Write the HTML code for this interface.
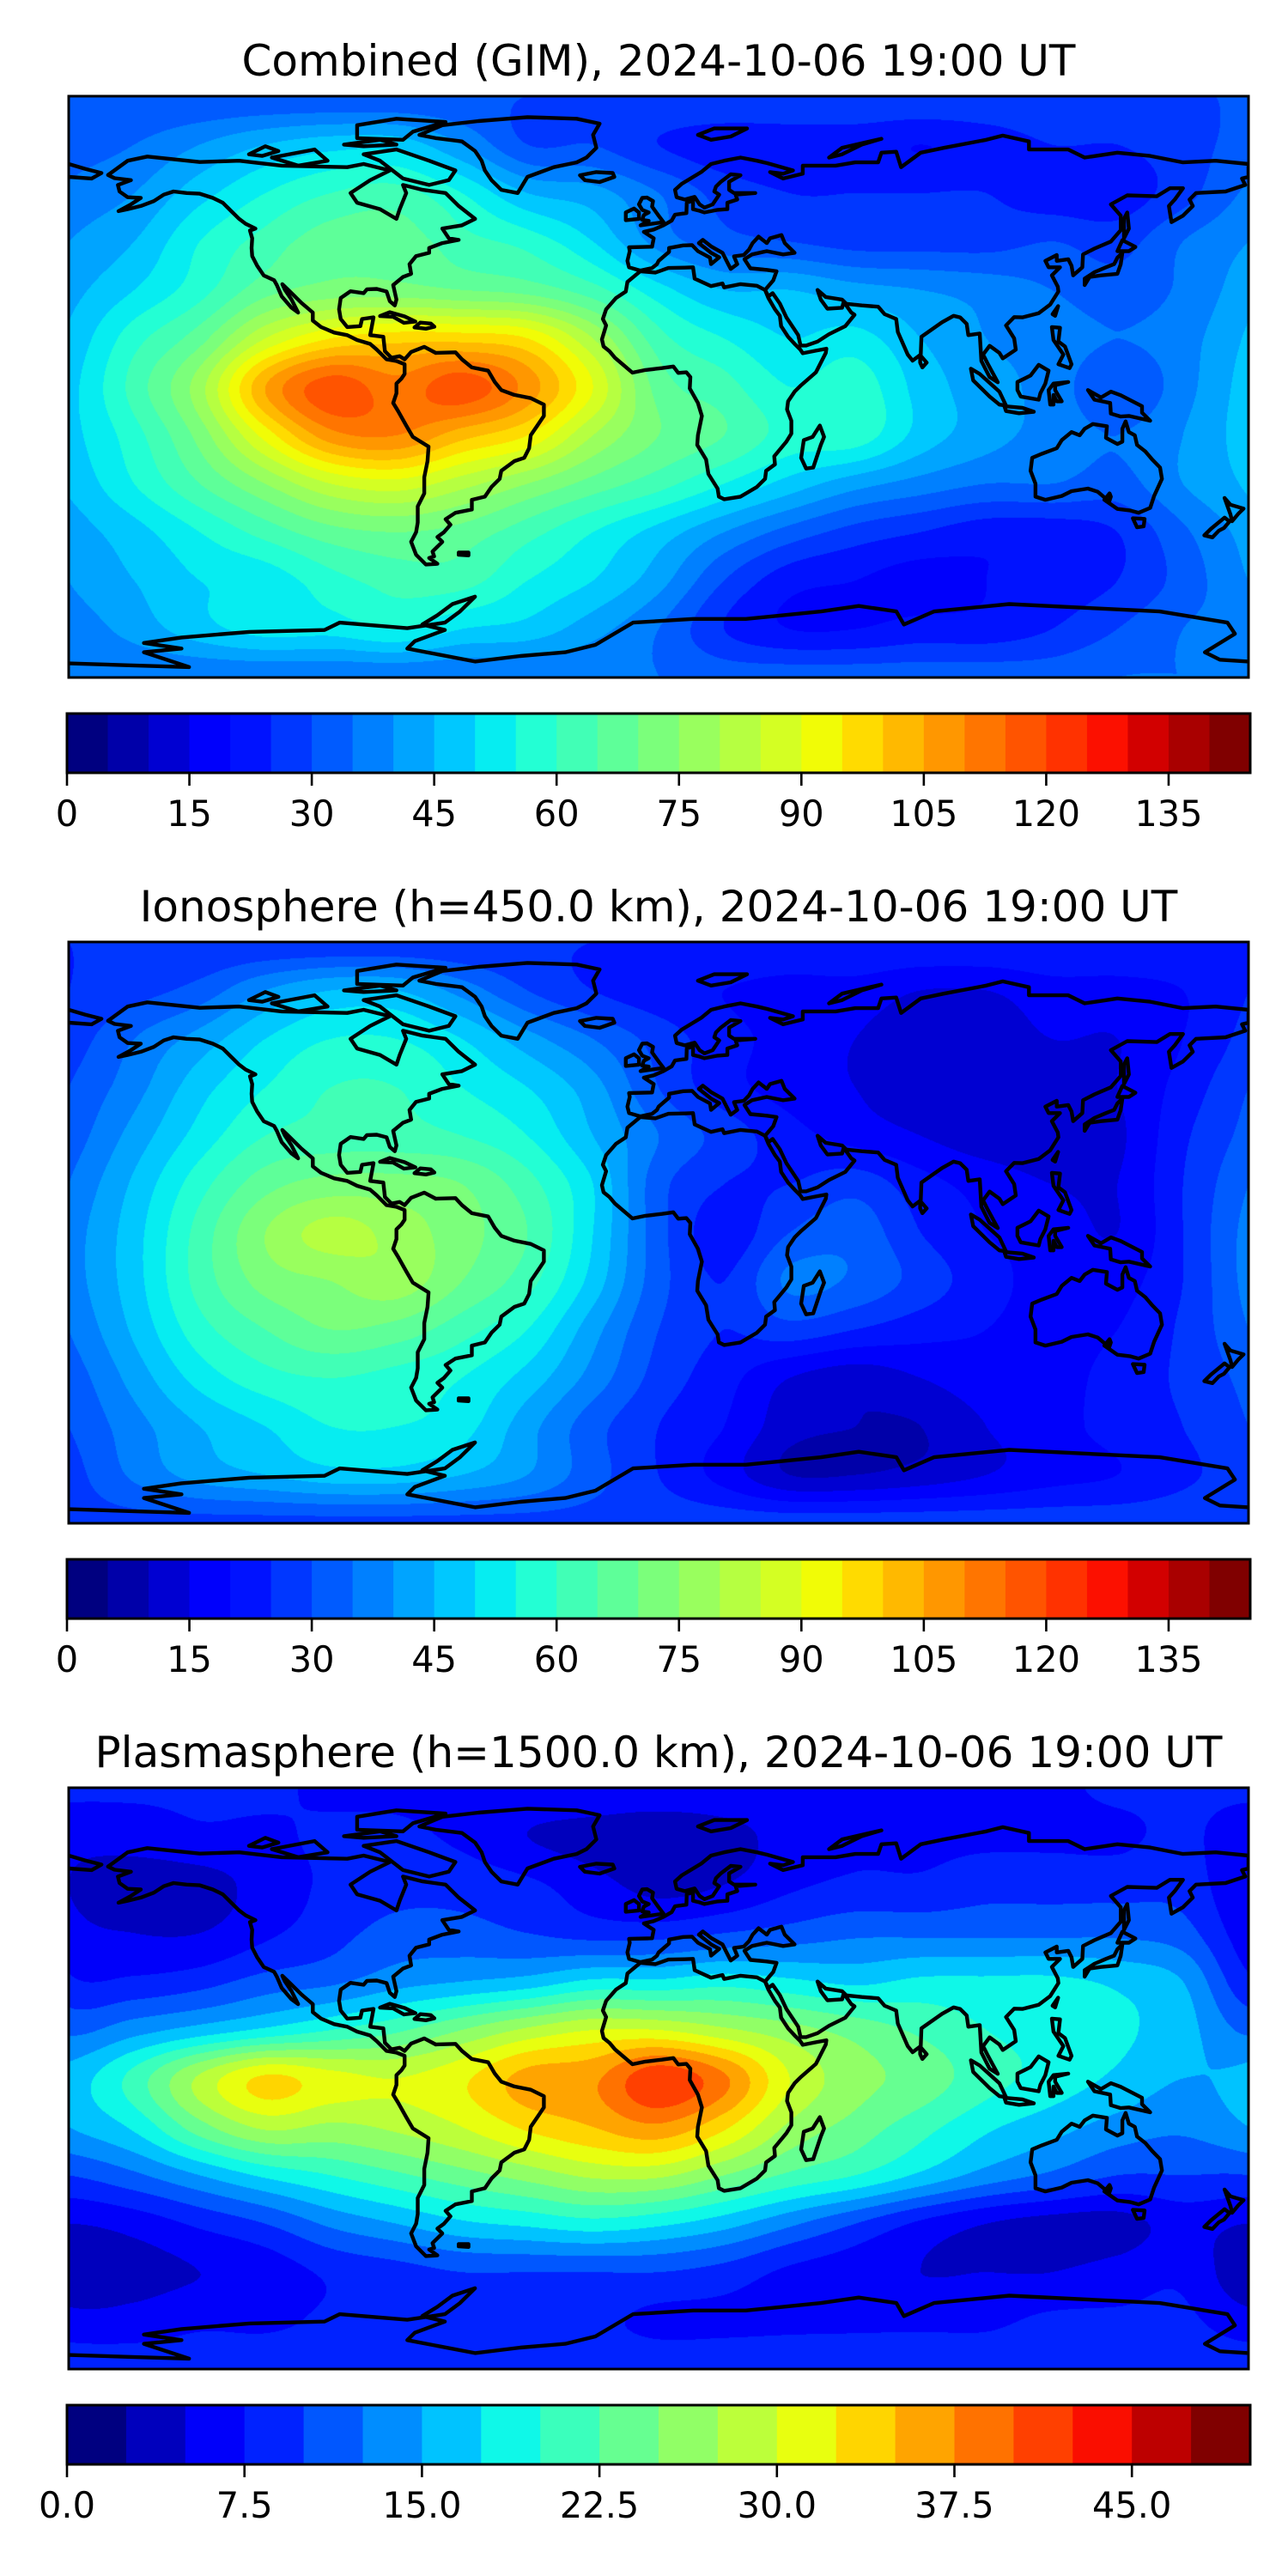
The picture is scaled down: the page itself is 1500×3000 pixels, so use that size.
<!DOCTYPE html>
<html><head><meta charset="utf-8">
<style>
html,body{margin:0;padding:0;background:#fff;}
#wrap{position:relative;width:1500px;height:3000px;overflow:hidden;background:#fff;}
canvas{position:absolute;}
svg{position:absolute;left:0;top:0;}
text{font-family:"DejaVu Sans","Liberation Sans",sans-serif;fill:#000;}
</style></head>
<body>
<div id="wrap">
<canvas id="c0" width="1374" height="677" style="left:80px;top:112px"></canvas>
<canvas id="c1" width="1374" height="677" style="left:80px;top:1097px"></canvas>
<canvas id="c2" width="1374" height="677" style="left:80px;top:2082px"></canvas>
<svg id="ov" width="1500" height="3000" xmlns="http://www.w3.org/2000/svg"></svg>
</div>
<script>
// ---------- data ----------
const gridLons = [-180,-160,-140,-120,-100,-80,-60,-40,-20,0,20,40,60,80,100,120,140,160,180];
const gridLats = [90,75,60,45,30,15,0,-15,-30,-45,-60,-75,-90];
const titles = ["Combined (GIM), 2024-10-06 19:00 UT","Ionosphere  (h=450.0 km), 2024-10-06 19:00 UT","Plasmasphere (h=1500.0 km), 2024-10-06 19:00 UT"];
const levelMax = [145,145,50];
const levelStep = [5,5,2.5];
const tickValsA = [0,15,30,45,60,75,90,105,120,135];
const tickLabelsA = ["0","15","30","45","60","75","90","105","120","135"];
const tickValsB = [0,7.5,15,22.5,30,37.5,45];
const tickLabelsB = ["0.0","7.5","15.0","22.5","30.0","37.5","45.0"];
const combined = [
[30,30,30,30,30,30,30,30,30,30,30,30,30,30,30,30,30,30,30],
[32,35,40,45,48,48,40,30,30,25,22,22,22,20,22,25,25,28,32],
[36,40,48,55,60,62,55,45,42,35,28,25,25,25,25,22,22,28,36],
[40,45,55,62,68,68,62,58,50,38,32,30,28,28,28,30,28,35,40],
[43,50,58,68,72,72,70,68,62,52,45,45,42,40,38,35,32,36,43],
[46,58,68,85,95,98,98,95,80,62,55,50,52,45,40,38,35,38,46],
[48,62,78,105,118,112,118,108,90,68,62,55,58,48,42,38,30,38,48],
[48,58,72,92,108,110,102,95,80,70,65,58,58,48,42,38,35,40,48],
[46,55,65,75,85,88,82,75,68,62,55,48,42,38,35,35,33,40,46],
[42,48,55,62,68,70,68,62,55,48,40,33,28,25,22,22,25,34,42],
[40,45,50,52,58,62,62,55,50,42,30,22,20,18,20,22,25,32,40],
[37,42,48,52,52,55,50,48,42,35,25,20,20,22,22,25,30,35,37],
[35,35,35,35,35,35,35,35,35,35,33,33,33,33,33,33,35,35,35]];
const ionosphere = [
[25,25,25,25,25,25,25,25,25,25,25,25,25,25,25,25,25,25,25],
[25,28,32,40,45,45,38,30,25,22,20,18,18,15,15,18,18,20,25],
[27,35,42,50,55,55,50,42,35,28,22,18,15,12,12,15,15,20,27],
[30,38,48,55,60,60,55,50,42,30,22,18,15,12,10,12,15,22,30],
[32,42,52,60,62,62,60,55,45,35,28,22,18,15,12,12,14,24,32],
[35,46,58,68,72,72,70,62,50,32,25,25,28,22,18,15,15,25,35],
[37,48,62,75,82,78,72,65,50,32,22,30,33,25,20,18,15,25,37],
[37,48,62,72,75,78,70,62,48,32,25,36,34,28,22,18,18,25,37],
[35,46,58,65,70,68,62,55,42,30,25,28,25,22,20,18,20,26,35],
[32,42,52,58,60,58,55,48,38,28,22,15,12,15,18,18,22,26,32],
[30,38,45,50,55,55,52,42,32,25,20,12,10,10,15,18,22,25,30],
[28,36,42,45,48,48,45,40,32,25,18,10,10,12,15,18,20,24,28],
[28,28,28,28,28,28,28,28,28,28,28,28,28,28,28,28,28,28,28]];
const plasmasphere = [
[8,8,8,8,7,7,7,7,7,7,7,7,7,7,7,7,8,8,8],
[6,6,7,7,8,8,7,5,4,3,4,6,7,7,7,7,7,8,6],
[5,4,4,6,8,9,9,8,6,4,5,7,8,8,9,9,9,9,5],
[6,5,5,7,9,11,11,10,9,9,10,11,12,12,12,12,12,11,6],
[8,8,9,11,12,14,15,16,18,18,19,18,17,18,18,18,17,15,8],
[12,14,16,18,20,22,25,28,30,30,28,26,24,22,20,19,18,16,12],
[16,21,28,33,31,30,32,36,37,42,38,30,26,24,21,19,17,15,16],
[15,18,24,28,27,28,30,33,35,37,33,27,24,21,18,16,14,13,15],
[10,12,15,18,20,22,24,26,28,28,25,22,20,17,14,12,10,10,10],
[5,6,8,10,13,15,17,18,19,18,16,13,10,7,5,4,4,6,5],
[3,4,5,6,8,9,10,10,10,10,9,7,6,5,5,5,6,7,3],
[6,6,7,7,8,9,9,8,8,7,7,7,7,7,7,8,8,8,6],
[9,9,9,9,9,9,9,9,9,9,9,9,9,9,9,9,9,9,9]];
const fields = [combined, ionosphere, plasmasphere];

// ---------- layout ----------
const MAP_X=80, MAP_W=1374, MAP_H=677, PANEL_DY=985, MAP_Y0=112;
const CB_X=78, CB_W=1378, CB_Y0=831, CB_H=69;

// matplotlib jet segment data
const JR=[[0,0],[0.35,0],[0.66,1],[0.89,1],[1,0.5]];
const JG=[[0,0],[0.125,0],[0.375,1],[0.64,1],[0.91,0],[1,0]];
const JB=[[0,0.5],[0.11,1],[0.34,1],[0.65,0],[1,0]];
function seg(s,x){
  for(let i=1;i<s.length;i++){
    if(x<=s[i][0]){const t=(x-s[i-1][0])/(s[i][0]-s[i-1][0]);return s[i-1][1]+t*(s[i][1]-s[i-1][1]);}
  }
  return s[s.length-1][1];
}
function jet(x){return [seg(JR,x),seg(JG,x),seg(JB,x)].map(v=>Math.round(v*255));}
function cr(p0,p1,p2,p3,t){
  return p1+0.5*t*(p2-p0+t*(2*p0-5*p1+4*p2-p3+t*(3*(p1-p2)+p3-p0)));
}
function sample(g,lon,lat){
  const nc=gridLons.length, nr=gridLats.length;
  const c=(lon-gridLons[0])/20, r=(gridLats[0]-lat)/15;
  const ci=Math.floor(c), ri=Math.floor(r), tc=c-ci, tr=r-ri;
  const rows=[];
  for(let k=-1;k<=2;k++){
    const rr=Math.max(0,Math.min(nr-1,ri+k));
    const row=g[rr];
    const v=[];
    for(let m=-1;m<=2;m++){
      let cc=ci+m;
      if(cc<0)cc+=nc-1; if(cc>nc-1)cc-=nc-1;
      cc=Math.max(0,Math.min(nc-1,cc));
      v.push(row[cc]);
    }
    rows.push(cr(v[0],v[1],v[2],v[3],tc));
  }
  return cr(rows[0],rows[1],rows[2],rows[3],tr);
}
function drawField(idx){
  const cv=document.getElementById('c'+idx);
  const ctx=cv.getContext('2d');
  const img=ctx.createImageData(MAP_W,MAP_H);
  const g=fields[idx], step=levelStep[idx], nb=Math.round(levelMax[idx]/step);
  const pal=[]; for(let i=0;i<nb;i++) pal.push(jet(i/(nb-1)));
  for(let py=0;py<MAP_H;py++){
    const lat=90-(py+0.5)/MAP_H*180;
    for(let px=0;px<MAP_W;px++){
      const lon=-180+(px+0.5)/MAP_W*360;
      const val=sample(g,lon,lat);
      let b=Math.floor(val/step); if(b<0)b=0; if(b>nb-1)b=nb-1;
      const c=pal[b], o=(py*MAP_W+px)*4;
      img.data[o]=c[0];img.data[o+1]=c[1];img.data[o+2]=c[2];img.data[o+3]=255;
    }
  }
  ctx.putImageData(img,0,0);
}
[0,1,2].forEach(drawField);

// ---------- coastlines (lon,lat) ----------
const coasts = {
 "americas":[[-168,65.6],[-162,70],[-156,71.3],[-140,69.6],[-128,70],[-115,68.5],[-95,68],[-90,69],[-82,67],[-88,64],[-94,60],[-92,57],[-85,55],[-80,52],[-79,55],[-77,60],[-78,62.5],[-72,61],[-65,60],[-61,56],[-56,52],[-60,50],[-66,49],[-64,46],[-61,45.5],[-66,44.5],[-70,43],[-70,41.5],[-74,40.5],[-76,38],[-75.5,35],[-78,34],[-81,31.5],[-80,27],[-80.5,25.2],[-82,26.5],[-83,29.5],[-86,30.3],[-89,30.2],[-90,29],[-94,29.6],[-97,27.5],[-97.5,24],[-97,21],[-95,18.5],[-91,18.8],[-90.5,21],[-87,21.5],[-88,16],[-84,15.5],[-83.5,11],[-81.5,9],[-79,9.5],[-77.5,8.5],[-75.5,10.8],[-71.5,12.4],[-68,10.5],[-62,10.7],[-60,8.5],[-57,6],[-52,5],[-50,1.5],[-48,-1],[-44,-2.5],[-39,-3.5],[-35,-5.5],[-35,-9],[-37,-12],[-39,-15],[-39.5,-19],[-41,-22],[-44,-23],[-48,-26],[-48.5,-28.5],[-51,-31],[-53,-34],[-57,-35],[-57,-38],[-62,-39],[-65,-41],[-63.5,-42.7],[-65.5,-45],[-67.5,-46.5],[-66,-48],[-69,-51],[-68.5,-52.5],[-70,-53],[-67.5,-54.8],[-71,-55],[-74,-52],[-75.5,-48],[-74,-45],[-73.5,-42],[-73.5,-37],[-71.5,-33],[-71.5,-28],[-70.5,-23],[-70.2,-18.5],[-75,-15.5],[-77,-12],[-79.5,-7.5],[-81,-5],[-80,-2],[-80,1],[-78.5,2.5],[-77.5,4],[-77.5,7],[-80,8],[-83,8.5],[-86,11.5],[-88,13.3],[-92,14.5],[-95,16],[-99,16.8],[-103,18.5],[-105.5,20.5],[-105.5,23],[-109,26],[-112.5,29.5],[-114.8,31.8],[-114,30],[-112,27],[-110,23],[-112,24.5],[-115,28],[-116.5,31.5],[-117.3,33],[-120.5,34.5],[-122.5,37.5],[-124,40.5],[-124.2,43],[-124,46],[-124.7,48.4],[-123,49],[-126,50.5],[-128,52],[-130.5,54.5],[-133,57],[-136,58.5],[-140,59.8],[-144,60],[-148,60.5],[-151,59.5],[-154,57.5],[-158,56],[-162,55],[-164.8,54.4],[-161,56.5],[-158,58.5],[-162,58.7],[-164.5,60.5],[-165,62.5],[-161,64],[-166,64.6],[-168,65.6]],
 "greenland":[[-73,78],[-66,81],[-55,82.3],[-40,83.5],[-25,83],[-18,81.5],[-20,78],[-19,74],[-22,71],[-25,69.5],[-32,68],[-40,65],[-43,60],[-48,61],[-51,64],[-53,67],[-54,70],[-56,73],[-60,76],[-68,77],[-73,78]],
 "baffin":[[-90,72],[-80,73.5],[-70,70],[-62,67],[-64,64],[-70,62.5],[-78,64.5],[-85,70],[-90,72]],
 "victoria":[[-118,71],[-105,73.5],[-101,70],[-110,68.5],[-118,71]],
 "ellesmere":[[-92,77],[-78,76.5],[-75,79],[-65,82],[-80,83],[-92,81],[-92,77]],
 "banks":[[-125,72],[-120,74.5],[-116,73],[-121,71.5],[-125,72]],
 "devon":[[-96,75],[-85,76.5],[-80,75],[-90,74.5],[-96,75]],
 "eurasia":[[-5.6,36],[-9,37],[-9.5,39],[-8.8,42],[-9,43.2],[-2,43.4],[-1.5,46],[-4.5,48],[-1.5,48.7],[1.5,50],[4,51.5],[5,53.3],[8.5,53.8],[8.6,57],[10.5,57.7],[10.5,55],[12.5,54.5],[14,54],[18,54.8],[21,55],[21,57],[24,58],[23.5,59.5],[29.5,60],[23,60],[21.5,61],[21.5,63.5],[25,65.5],[22,65.8],[19,63.5],[17.5,62],[17,60.5],[18.5,59.5],[16.5,56.5],[14,55.5],[12.5,56.5],[11,58.8],[8,58],[5.5,58.7],[5,61],[7,62.8],[13,66.5],[16,69],[20,70],[25,71],[30,70],[33,69.3],[41,67],[38,66],[34,66.5],[38,64.5],[44,66],[44,68.5],[54,68.5],[60,69.5],[67,69.5],[68,72.5],[72.5,72.8],[74,68],[80,72.5],[87,74],[100,76.5],[105,77.8],[113,76],[113,73.5],[125,73.5],[130,71],[140,72.5],[150,71.5],[160,69.5],[170,70],[180,69],[180,65],[178,64.5],[179,62.5],[173,60.5],[164,60],[162,58],[163,56],[160,53],[156.5,51],[155.7,56],[157.5,58],[160,61.5],[156,61.5],[152,59],[143,59.3],[138,56.5],[141,53],[141,48.5],[138,45],[133,42.8],[129.5,41],[129.3,37],[126.5,34.5],[126,37.5],[125,39.5],[121.5,39],[121.5,40.8],[118,39],[119,37],[122.5,37],[120,34.5],[121.8,31],[122,29.5],[119.5,25.5],[116,22.8],[111,21.5],[108.5,21.6],[106,19],[108.5,15],[109,11.5],[105,8.8],[104,10.5],[101,12.7],[99,10],[100.5,7],[103.5,1.4],[101,3],[98.5,8],[98,16.5],[94.5,16],[94,19.5],[92,21.5],[90,22],[86.5,20],[80.2,15.5],[80,10],[77.5,8.1],[76,10],[73,17],[72.5,21],[69,22.5],[67,24.8],[62,25.2],[57.3,25.7],[56,27],[51,27.8],[48.5,30],[49.5,27],[51.5,24.2],[56,24.5],[56.5,26.3],[58.8,23],[59.8,22.3],[57,18.8],[52,16.3],[48.5,14],[45,12.8],[43.3,12.8],[42.6,16],[39,21.5],[37,25.8],[34.8,29],[33.5,28],[32.5,30],[35,33],[36,35.8],[33,36.2],[28,36.7],[26.2,39.5],[28.5,41],[33,42],[38,41],[41.5,41.5],[38.5,44.5],[37.5,47],[34,46],[33,44.5],[30.5,46.5],[28.7,44.5],[27.6,42.5],[26,40.8],[23,40.4],[24,38],[22,36.5],[21,38.5],[19.5,41.5],[16,43.5],[13.5,45.5],[12.3,44.5],[16,41.5],[18.5,40.1],[16,38],[15.7,40],[12,42],[10.2,43.9],[7.5,43.8],[3.2,43],[3.2,41.8],[0,39],[-0.5,38],[-2,36.8],[-5.6,36]],
 "chukotka":[[-180,69],[-175,67.5],[-170,66.2],[-173,64.5],[-180,65]],
 "africa":[[-5.6,35.8],[-9.5,32.5],[-10,29.5],[-13,27.5],[-16,24],[-17,21],[-16,19],[-17.3,14.7],[-16.8,12.5],[-15,11],[-13.3,9],[-11,7],[-8,4.4],[-4,5.2],[1,5.8],[4.5,6.3],[6,4.3],[8.5,4.5],[9.7,3],[9.5,-0.5],[12,-5],[13.2,-9],[12,-15],[11.8,-18],[14.5,-22.5],[15.2,-27],[18,-31.5],[18.4,-34],[20,-34.8],[25,-34],[30,-31],[32.5,-28.5],[32.8,-26],[35.5,-24],[35.3,-21.5],[39,-17],[40.5,-14.5],[40.5,-10.5],[39.2,-7],[39.5,-4.5],[41.5,-1.5],[43.5,0.5],[48,4.5],[51,10.5],[51.2,11.8],[48,11.2],[44,10.4],[43.2,11.6],[41.8,13],[39.5,15.5],[37.4,18.8],[37,22],[35.5,24],[33.5,27.5],[32.5,30],[30,31.3],[25,31.8],[20,30.8],[19.5,32],[16,31.2],[11,33.5],[10.5,37],[8,36.9],[3,36.8],[-1,35.4],[-5.6,35.8]],
 "madagascar":[[49.2,-12],[50.5,-15.5],[49.5,-18],[47.2,-25],[45,-25.3],[43.5,-22],[44.3,-16.5],[47,-15.5],[49.2,-12]],
 "britain":[[-5.5,50],[1.5,51],[0,53],[-2,55.8],[-1.7,57.5],[-3.5,58.6],[-5,58.5],[-6,56.5],[-5,54.8],[-3,54],[-4.5,53.2],[-5,51.7],[-3,51.4],[-5.5,50]],
 "ireland":[[-10,51.6],[-6,52],[-6,54],[-7.5,55.2],[-10,54],[-10,51.6]],
 "iceland":[[-22.5,64],[-24,65.5],[-19,66.5],[-14,66.2],[-13.5,65],[-18,63.4],[-22.5,64]],
 "svalbard":[[12,78],[17,80],[27,80],[22,77.5],[16,76.5],[12,78]],
 "novaya-zemlya":[[52,71],[56,74],[68,76.8],[62,75],[56,72],[52,71]],
 "honshu":[[130,31.5],[131.5,34],[135,34.5],[140,35],[141,38],[141.5,41.5],[140,40],[139,38],[136.5,37],[133,35.5],[130,33.5],[130,31.5]],
 "hokkaido":[[140,42],[141.5,45.4],[145.5,43.3],[143.5,42],[140,42]],
 "sakhalin":[[142,46],[143.5,49],[143,54],[142,52],[142,46]],
 "taiwan":[[120.2,22.5],[121.9,25],[121,22],[120.2,22.5]],
 "philippines":[[120,18.5],[122.5,18.3],[122,14],[124,12.5],[126,7],[125.4,5.8],[122,7],[123.5,10],[120.5,14.5],[120,18.5]],
 "borneo":[[109.5,1.5],[111.5,2.5],[113.5,3.5],[116,6.8],[119,5],[118,1],[116.5,-2],[116,-4],[110.5,-3],[109.5,-1],[109.5,1.5]],
 "sumatra":[[95.3,5.6],[98,4],[104,-1.5],[106,-5.8],[104,-5.5],[101,-3],[96,2],[95.3,5.6]],
 "java":[[105.5,-6],[111,-6.5],[114.5,-7.7],[110,-8.2],[106,-7.5],[105.5,-6]],
 "sulawesi":[[119.5,-5.5],[119,-1],[120.5,1],[125,1.5],[121,0.5],[121,-1],[123,-4.5],[121.5,-4.5],[120.5,-2.5],[120.5,-5.5],[119.5,-5.5]],
 "new-guinea":[[131,-1],[135,-3.3],[138,-1.5],[141,-2.6],[147.5,-6],[147.5,-8],[150,-10.5],[143.5,-9],[141,-9.2],[138,-8.3],[137.8,-5],[133,-4],[131,-1]],
 "australia":[[114,-22],[113.5,-26],[115,-30],[115,-34],[118,-35],[123,-33.8],[126,-32.3],[131,-31.5],[134,-32.5],[137.5,-35.5],[138,-34],[137.6,-33],[136,-35],[140,-37.8],[144,-38.3],[146.5,-39],[150,-37.5],[151.2,-33.8],[153.6,-28.5],[153,-25],[150.6,-22.5],[148.5,-20],[146,-18],[145.3,-15],[143.5,-14],[142.5,-10.7],[141.5,-13],[141.5,-17],[140,-17.7],[136.5,-15.8],[136.8,-12.2],[132.5,-11.5],[130,-13],[128.5,-15],[126,-14],[123,-16.5],[121.5,-19],[117,-20.7],[114,-22]],
 "tasmania":[[144.7,-40.7],[148.3,-40.9],[148,-43.2],[146,-43.5],[144.7,-40.7]],
 "nz-north":[[172.7,-34.4],[174.5,-36.5],[178.5,-37.7],[177,-39.2],[175,-41.6],[174.5,-39.5],[172.7,-34.4]],
 "nz-south":[[172.7,-40.5],[174.2,-41.7],[172.5,-43.7],[171,-44.5],[169,-46.6],[166.5,-46],[168.5,-44],[172.7,-40.5]],
 "cuba":[[-85,21.9],[-82,23.1],[-77.5,21.8],[-74.2,20.2],[-77.7,19.8],[-81,21.7],[-85,21.9]],
 "hispaniola":[[-74.5,18.4],[-72.7,19.9],[-69.5,19.6],[-68.4,18.6],[-71,18],[-74.5,18.4]],
 "sri-lanka":[[79.8,9.8],[81.8,7.5],[80.5,6],[79.8,7.5],[79.8,9.8]],
 "falklands":[[-61,-51.3],[-58,-51.3],[-58,-52.2],[-61,-52],[-61,-51.3]]
};
// Antarctica traced in map-fraction units (0..1568 square space)
const antarcticaPx = [[0,1530],[80,1535],[160,1540],[100,1500],[150,1490],[100,1475],[150,1460],[240,1445],[340,1440],[360,1420],[450,1435],[500,1420],[520,1390],[540,1350],[510,1370],[490,1400],[470,1425],[500,1440],[460,1470],[450,1490],[540,1525],[600,1510],[660,1500],[700,1480],[750,1420],[830,1410],[900,1410],[1000,1390],[1050,1375],[1100,1390],[1110,1425],[1150,1390],[1250,1370],[1350,1380],[1450,1390],[1540,1420],[1550,1450],[1510,1500],[1530,1520],[1568,1525]];

// ---------- SVG overlay ----------
const NS="http://www.w3.org/2000/svg";
const ov=document.getElementById('ov');
function mk(tag,attrs,parent){const e=document.createElementNS(NS,tag);for(const k in attrs)e.setAttribute(k,attrs[k]);(parent||ov).appendChild(e);return e;}
function lonX(lon){return MAP_X+(lon+180)/360*MAP_W;}
function latY(lat,y0){return y0+(90-lat)/180*MAP_H;}

for(let p=0;p<3;p++){
  const my=MAP_Y0+p*PANEL_DY;
  const t=mk('text',{x:767,y:my-24,'text-anchor':'middle','font-size':'50'});
  t.textContent=titles[p];
  
  
  const cg=mk('g',{fill:'none',stroke:'#000','stroke-width':'4.4','stroke-linejoin':'round','stroke-linecap':'round'});
  
  
  const cp=mk('clipPath',{id:'clip'+p});
  mk('rect',{x:MAP_X,y:my,width:MAP_W,height:MAP_H},cp);
  cg.setAttribute('clip-path','url(#clip'+p+')');
  for(const name in coasts){
    const d=coasts[name].map((q,i)=>(i?'L':'M')+lonX(q[0]).toFixed(1)+' '+latY(q[1],my).toFixed(1)).join(' ');
    const path=mk('path',{d:d},cg);
    
    
  }
  const ad=antarcticaPx.map((q,i)=>(i?'L':'M')+(MAP_X+q[0]/1568*MAP_W).toFixed(1)+' '+(my+q[1]/1568*MAP_H).toFixed(1)).join(' ');
  const ap=mk('path',{d:ad},cg);
  
  
  const fr=mk('rect',{x:MAP_X,y:my,width:MAP_W,height:MAP_H,fill:'none',stroke:'#000','stroke-width':'3'});
  
  

  const cy=CB_Y0+p*PANEL_DY;
  const vmax=levelMax[p], step=levelStep[p], nb=Math.round(vmax/step);
  const cbg=mk('g',{});
  
  
  const xv=v=>CB_X+v/vmax*CB_W;
  for(let i=0;i<nb;i++){
    const c=jet(i/(nb-1));
    const x0=xv(i*step), x1=xv((i+1)*step);
    const r=mk('rect',{x:x0.toFixed(2),y:cy,width:(x1-x0+0.6).toFixed(2),height:CB_H,fill:'rgb('+c.join(',')+')'},cbg);
    
    
  }
  mk('rect',{x:CB_X,y:cy,width:CB_W,height:CB_H,fill:'none',stroke:'#000','stroke-width':'3'},cbg);
  const tv=p<2?tickValsA:tickValsB, tl=p<2?tickLabelsA:tickLabelsB;
  tv.forEach((v,i)=>{
    const x=xv(v);
    const tk=mk('line',{x1:x,x2:x,y1:cy+CB_H,y2:cy+CB_H+15,stroke:'#000','stroke-width':'2.6'},cbg);
    
    
    const lb=mk('text',{x:x,y:cy+CB_H+62,'text-anchor':'middle','font-size':'41.5'},cbg);
    lb.textContent=tl[i];
    
    
  });
}
</script>
</body></html>
